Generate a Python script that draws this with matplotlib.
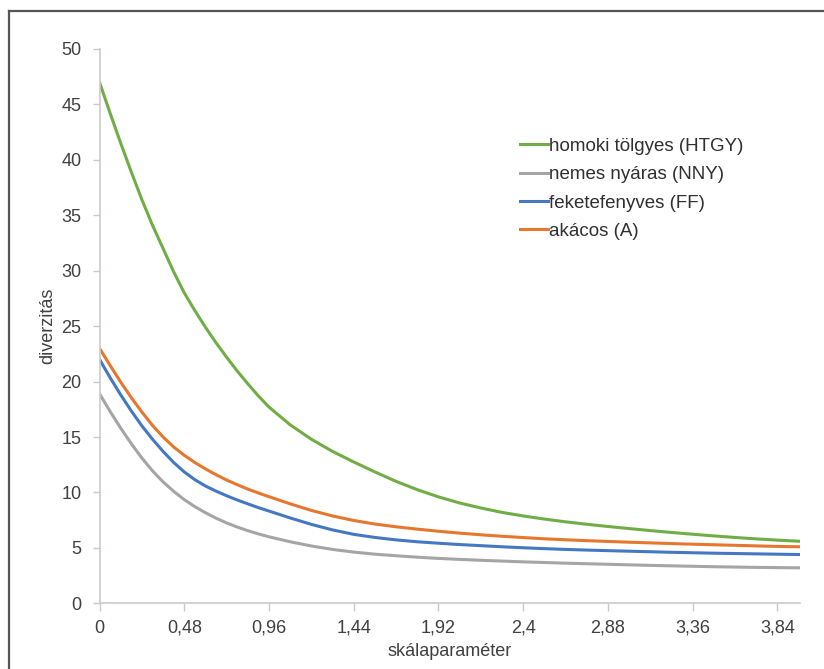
import matplotlib
matplotlib.use("Agg")
import matplotlib.pyplot as plt
from matplotlib.lines import Line2D

plt.rcParams["font.family"] = ["Liberation Sans", "DejaVu Sans"]

scale = [0, 0.06, 0.12, 0.18, 0.24, 0.30, 0.36, 0.42, 0.48, 0.54, 0.60, 0.66,
         0.72, 0.78, 0.84, 0.90, 0.96,
         1.08, 1.20, 1.32, 1.44, 1.56, 1.68, 1.80, 1.92, 2.04, 2.16, 2.28,
         2.40, 2.52, 2.64, 2.76, 2.88, 3.00, 3.12, 3.24, 3.36, 3.48, 3.60,
         3.72, 3.84, 3.96]

htgy = [47.0, 44.2, 41.5, 38.9, 36.4, 34.1, 32.0, 29.9, 28.0, 26.4, 24.9, 23.5,
        22.2, 20.95, 19.8, 18.7, 17.7,
        16.1, 14.8, 13.7, 12.75, 11.85, 11.0, 10.25, 9.6, 9.05, 8.6, 8.2,
        7.88, 7.6, 7.35, 7.13, 6.93, 6.74, 6.56, 6.39, 6.23, 6.08, 5.94,
        5.81, 5.7, 5.6]
nny = [18.9, 17.3, 15.8, 14.4, 13.1, 11.95, 10.95, 10.1, 9.35, 8.72, 8.17, 7.68,
       7.25, 6.88, 6.55, 6.26, 6.0,
       5.55, 5.17, 4.86, 4.62, 4.43, 4.29, 4.16, 4.05, 3.96, 3.88, 3.81,
       3.74, 3.68, 3.62, 3.57, 3.52, 3.47, 3.42, 3.38, 3.34, 3.3, 3.27,
       3.24, 3.22, 3.2]
ff = [22.0, 20.35, 18.8, 17.35, 16.0, 14.8, 13.7, 12.7, 11.85, 11.15, 10.58, 10.12,
      9.7, 9.32, 8.97, 8.63, 8.32,
      7.7, 7.12, 6.62, 6.22, 5.94, 5.72, 5.55, 5.42, 5.3, 5.2, 5.1,
      5.01, 4.93, 4.86, 4.8, 4.75, 4.7, 4.65, 4.6, 4.56, 4.52, 4.49,
      4.46, 4.43, 4.4]
akac = [23.0, 21.45, 19.95, 18.55, 17.25, 16.05, 15.0, 14.1, 13.35, 12.7, 12.12, 11.6,
        11.12, 10.7, 10.3, 9.95, 9.62,
        8.97, 8.38, 7.88, 7.47, 7.15, 6.9, 6.69, 6.5, 6.33, 6.18, 6.05,
        5.93, 5.82, 5.73, 5.65, 5.58, 5.51, 5.45, 5.39, 5.33, 5.28, 5.23,
        5.18, 5.13, 5.1]

labels = ["homoki tölgyes (HTGY)", "nemes nyáras (NNY)",
          "feketefenyves (FF)", "akácos (A)"]
colors = ["#70AD47", "#A5A5A5", "#4478C2", "#E5772F"]

xticks = [0, 0.48, 0.96, 1.44, 1.92, 2.4, 2.88, 3.36, 3.84]
xticklabels = ["0", "0,48", "0,96", "1,44", "1,92", "2,4", "2,88", "3,36", "3,84"]
yticks = list(range(0, 51, 5))

fig = plt.figure(figsize=(8.24, 6.69), dpi=100)
ax = fig.add_axes([0.1208, 0.0982, 0.8504, 0.8286])

for series, label, color in zip([htgy, nny, ff, akac], labels, colors):
    ax.plot(scale, series, color=color, linewidth=2.2, label=label)

ax.set_xlim(0, 3.97)
ax.set_ylim(0, 50)
ax.set_xticks(xticks)
ax.set_xticklabels(xticklabels)
ax.set_yticks(yticks)

spine_color = "#cfc8c8"
for side in ["top", "right"]:
    ax.spines[side].set_visible(False)
for side in ["left", "bottom"]:
    ax.spines[side].set_color(spine_color)
    ax.spines[side].set_linewidth(1.2)
ax.tick_params(axis="y", colors=spine_color, length=5, width=1.0, pad=8,
               labelcolor="#404040", labelsize=13)
ax.tick_params(axis="x", colors=spine_color, length=6, width=1.0, pad=6,
               labelcolor="#404040", labelsize=13)

ax.set_xlabel("skálaparaméter", fontsize=13, color="#404040", labelpad=4)
ax.set_ylabel("diverzitás", fontsize=13, color="#404040", labelpad=4)

leg = ax.legend(loc="upper left", bbox_to_anchor=(0.6, 0.84), frameon=False,
                fontsize=13.5, handlelength=1.5, handletextpad=0.05,
                labelspacing=0.6, borderaxespad=0, borderpad=0)
for text in leg.get_texts():
    text.set_color("#303030")

# frame around the picture (only left and top edges are visible)
frame_x = 8.5 / 824
frame_y = 1 - 10.5 / 669
fig.add_artist(Line2D([frame_x, frame_x], [0, frame_y], transform=fig.transFigure,
                      color="#555555", linewidth=1.6))
fig.add_artist(Line2D([frame_x, 1], [frame_y, frame_y], transform=fig.transFigure,
                      color="#555555", linewidth=1.6))

fig.savefig("out.png", dpi=100)
